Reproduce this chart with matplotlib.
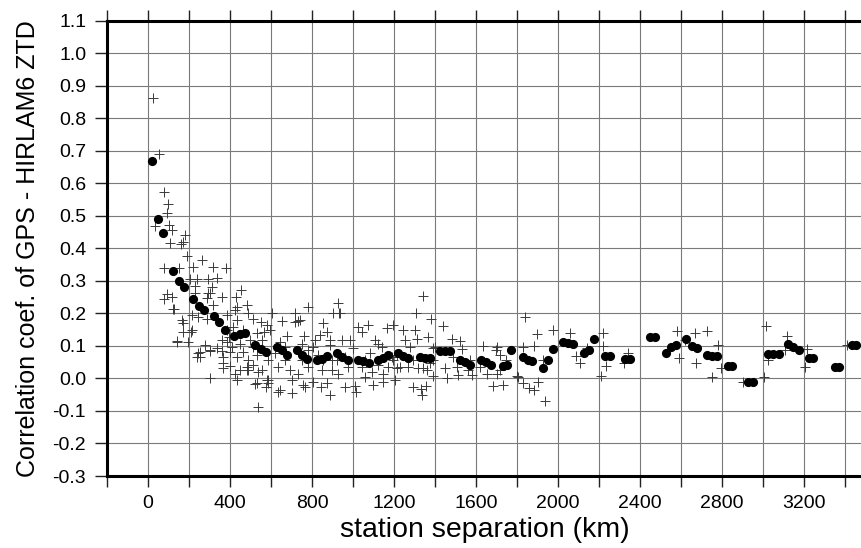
import matplotlib
matplotlib.use("Agg")
import matplotlib.pyplot as plt
from matplotlib.ticker import MultipleLocator, FuncFormatter

plt.rcParams['font.family'] = ['Liberation Sans', 'DejaVu Sans']
plt.rcParams['axes.unicode_minus'] = False

# binned mean correlation (filled dots)
dot_km = [20, 50, 75, 123, 151, 174, 221, 250, 273, 322, 346, 374, 421, 449, 472,
          522, 550, 576, 628, 652, 676, 725, 750, 774, 823, 847, 871, 920, 948, 974,
          1026, 1050, 1078, 1123, 1148, 1172, 1221, 1245, 1270, 1327, 1350, 1376,
          1424, 1449, 1473, 1522, 1546, 1571, 1623, 1649, 1673, 1733, 1750, 1770,
          1831, 1855, 1875, 1925, 1950, 1977, 2026, 2050, 2075, 2128, 2151, 2176,
          2229, 2254, 2327, 2351, 2449, 2473, 2527, 2549, 2576, 2624, 2652, 2676,
          2725, 2749, 2774, 2828, 2850, 2925, 2953, 3026, 3050, 3078, 3123, 3148,
          3176, 3226, 3245, 3351, 3372, 3432, 3454]
dot_corr = [0.667, 0.491, 0.447, 0.330, 0.300, 0.281, 0.243, 0.222, 0.210, 0.193,
            0.172, 0.148, 0.130, 0.135, 0.138, 0.102, 0.089, 0.080, 0.097, 0.087,
            0.072, 0.087, 0.072, 0.059, 0.056, 0.061, 0.068, 0.077, 0.066, 0.058,
            0.058, 0.053, 0.048, 0.056, 0.063, 0.072, 0.077, 0.068, 0.063, 0.066,
            0.064, 0.064, 0.085, 0.085, 0.085, 0.058, 0.049, 0.041, 0.058, 0.051,
            0.041, 0.038, 0.041, 0.087, 0.066, 0.058, 0.053, 0.031, 0.058, 0.090,
            0.112, 0.109, 0.105, 0.077, 0.087, 0.120, 0.068, 0.068, 0.061, 0.059,
            0.128, 0.128, 0.077, 0.095, 0.104, 0.121, 0.100, 0.092, 0.072, 0.069,
            0.068, 0.039, 0.039, -0.010, -0.010, 0.074, 0.074, 0.074, 0.107, 0.097,
            0.087, 0.063, 0.063, 0.036, 0.036, 0.104, 0.104]

# individual station-pair correlations (crosses)
pair_km = [26, 55, 78, 99, 91, 34, 104, 115, 180, 107, 159, 169, 189, 262, 78, 153,
           221, 316, 380, 205, 238, 294, 338, 229, 310, 452, 91, 115, 294, 359, 429,
           78, 127, 143, 197, 169, 172, 208, 254, 302, 302, 245, 229, 289, 436, 424,
           481, 489, 603, 782, 717, 741, 717, 925, 932, 904, 652, 855, 872, 839, 888,
           367, 424, 433, 481, 530, 587, 644, 701, 758, 806, 888, 961, 701,
           124, 164, 213, 213, 140, 245, 254, 302, 286, 316, 302, 387, 433, 514, 551,
           579, 566, 397, 359, 387, 449, 498, 514, 408, 359, 433, 489, 530, 367, 400,
           449, 489, 538, 555, 522, 579, 576, 538, 240,
           595, 733, 762, 676, 937, 1026, 1042, 1075, 1164, 1197, 985, 945, 815, 806,
           1107, 1123, 1140, 587, 636, 693, 733, 587, 636, 766, 846, 872, 1010, 1013,
           1058, 1099, 1148, 896, 928, 847, 977, 1042, 1091, 1148, 782, 668, 750, 896,
           1340, 1307, 1379, 1438, 1242, 1302, 1310, 1367, 1481, 1522, 1636, 1698,
           1530, 1746, 1717, 1506, 1513, 1579, 1652, 1701, 1457, 1684, 1733, 1801,
           1294, 1330, 1335, 1355, 1205, 1392, 1449, 1213, 1270, 1343, 1254, 1400,
           1197, 1294, 1376,
           1839, 1899, 1883, 1977, 2058, 1831, 1806, 1831, 1859, 1883, 1904, 1937,
           1927, 2107, 2088, 2140, 2221, 2218, 2234, 2208, 2322, 1701,
           2343, 2582, 2668, 2728, 2592, 2673, 2782, 2750, 2793, 2904, 3006, 3013,
           3026, 3118, 3107, 3213, 3205, 3408, 2620,
           644, 668, 620, 750, 782, 831, 855, 888, 920, 961, 1001, 1058, 1083, 1123,
           1172, 1188, 367, 400, 465, 481, 514, 335, 278, 384, 416, 465, 530, 555,
           1213, 1229, 1319, 1359, 1392, 1278, 1392, 1489, 1571, 1562, 1620, 1717]
pair_corr = [0.863, 0.689, 0.572, 0.535, 0.507, 0.468, 0.471, 0.455, 0.440, 0.416,
             0.414, 0.418, 0.375, 0.363, 0.338, 0.338, 0.341, 0.341, 0.338, 0.307,
             0.304, 0.307, 0.310, 0.283, 0.281, 0.271, 0.259, 0.250, 0.263, 0.250,
             0.250, 0.243, 0.212, 0.115, 0.111, 0.169, 0.143, 0.143, 0.082, 0.087,
             0.000, 0.189, 0.261, 0.246, 0.220, 0.210, 0.225, 0.200, 0.200, 0.220,
             0.200, 0.179, 0.174, 0.232, 0.200, 0.200, 0.177, 0.169, 0.143, 0.133,
             0.118, 0.046, 0.015, -0.005, 0.025, -0.015, -0.005, -0.036, -0.046,
             -0.021, -0.010, -0.051, -0.026, -0.005,
             0.212, 0.179, 0.194, 0.148, 0.112, 0.077, 0.066, 0.085, 0.184, 0.225,
             0.261, 0.194, 0.179, 0.184, 0.174, 0.164, 0.143, 0.128, 0.118, 0.112,
             0.107, 0.118, 0.097, 0.097, 0.085, 0.066, 0.056, 0.072, 0.031, 0.038,
             0.025, 0.025, 0.020, 0.025, -0.018, -0.005, -0.026, -0.087, 0.066,
             0.148, 0.176, 0.130, 0.130, 0.202, 0.158, 0.143, 0.164, 0.154, 0.164,
             0.118, 0.118, 0.118, 0.095, 0.118, 0.107, 0.097, 0.056, 0.036, 0.025,
             0.015, -0.015, -0.041, -0.026, -0.026, -0.015, -0.024, -0.041, 0.005,
             -0.021, -0.010, 0.025, 0.015, 0.025, 0.036, 0.036, 0.020, 0.015, 0.036,
             0.056, 0.056, 0.056,
             0.254, 0.200, 0.184, 0.161, 0.150, 0.150, 0.121, 0.128, 0.120, 0.115,
             0.099, 0.087, 0.089, 0.056, 0.072, 0.034, 0.010, 0.010, 0.013, 0.015,
             0.000, -0.024, -0.021, 0.007, -0.026, -0.034, -0.051, -0.024, -0.005,
             0.007, 0.031, 0.031, 0.036, 0.031, 0.118, 0.097, 0.056, 0.056, 0.046,
             0.189, 0.136, 0.099, 0.148, 0.141, 0.097, 0.005, -0.013, -0.031, -0.036,
             -0.010, -0.071, 0.058, 0.046, 0.069, 0.092, 0.138, 0.099, 0.039, 0.007,
             0.046, 0.097,
             0.077, 0.145, 0.138, 0.145, 0.063, 0.046, 0.102, 0.003, 0.031, -0.010,
             0.003, 0.161, 0.056, 0.130, 0.087, 0.089, 0.034, 0.102, 0.118,
             0.112, 0.097, 0.077, 0.107, 0.087, 0.072, 0.056, 0.102, 0.056, 0.066,
             0.092, 0.056, 0.077, 0.041, 0.036, 0.066, 0.066, 0.082, 0.082, 0.036,
             0.041, 0.092, 0.102, 0.148, 0.158, 0.148, 0.138, 0.118,
             0.072, 0.036, 0.031, 0.025, 0.056, 0.097, 0.092, 0.066, 0.056, 0.025,
             0.036, 0.025]

x_ticks_labeled = [0, 400, 800, 1200, 1600, 2000, 2400, 2800, 3200]

fig = plt.figure(figsize=(8.62, 5.48), dpi=100)
ax = fig.add_axes([107/862, 1 - 476/548, 1 - 107/862, (476 - 20.5)/548])

ax.plot(pair_km, pair_corr, linestyle='none', marker='+', markersize=7,
        markeredgewidth=0.7, color='#3a3a3a', zorder=3)
ax.plot(dot_km, dot_corr, linestyle='none', marker='o', markersize=6.6,
        color='black', markeredgewidth=0, zorder=4)

ax.set_xlim(-200, 3483)
ax.set_ylim(-0.3, 1.1)
ax.xaxis.set_major_locator(MultipleLocator(200))
ax.yaxis.set_major_locator(MultipleLocator(0.1))
ax.xaxis.set_major_formatter(FuncFormatter(
    lambda v, p: f"{int(round(v))}" if int(round(v)) in x_ticks_labeled else ""))
ax.yaxis.set_major_formatter(FuncFormatter(lambda v, p: f"{v:.1f}" if abs(v) > 1e-9 else "0.0"))

ax.grid(True, color='#7a7a7a', linewidth=0.8)
ax.set_axisbelow(True)
ax.tick_params(axis='x', which='major', direction='out', length=8, width=1.0,
               top=True, labeltop=False, labelsize=14, pad=6, color='#222')
ax.tick_params(axis='y', which='major', direction='out', length=9, width=1.0,
               labelsize=14, pad=6, color='#222')

for side in ['left', 'top', 'bottom']:
    ax.spines[side].set_linewidth(2.2)
    ax.spines[side].set_color('black')
ax.spines['right'].set_visible(False)

ax.set_xlabel('station separation (km)', fontsize=20.5, va='center')
ax.xaxis.set_label_coords(0.5, (476 - 530) / 455.5)
ax.set_ylabel('Correlation coef. of GPS - HIRLAM6 ZTD', fontsize=18, va='center')
ax.yaxis.set_label_coords((28 - 107) / 755, 0.5)

fig.savefig('out.png', dpi=100)
